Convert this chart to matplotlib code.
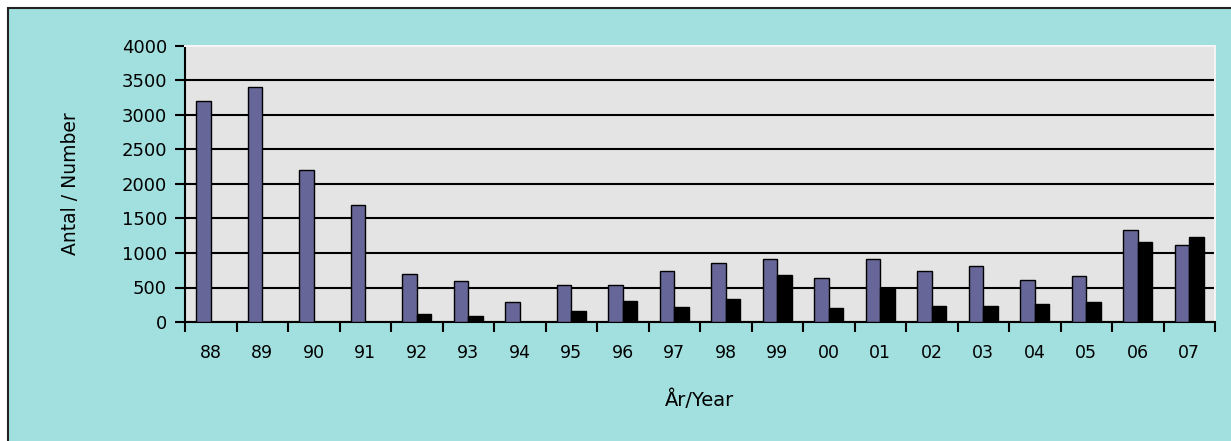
import matplotlib
matplotlib.use("Agg")
import matplotlib.pyplot as plt
import numpy as np
from matplotlib.patches import Rectangle

years = ["88", "89", "90", "91", "92", "93", "94", "95", "96", "97",
         "98", "99", "00", "01", "02", "03", "04", "05", "06", "07"]
series_a = [3200, 3400, 2200, 1700, 700, 600, 290, 530, 530, 740,
            850, 910, 640, 910, 740, 810, 610, 670, 1330, 1120]
series_b = [0, 0, 0, 0, 120, 80, 0, 160, 300, 220,
            330, 680, 200, 500, 230, 230, 260, 290, 1160, 1230]
yticks = [0, 500, 1000, 1500, 2000, 2500, 3000, 3500, 4000]

plt.rcParams['font.family'] = ['DejaVu Sans']

fig = plt.figure(figsize=(12.31, 4.41), dpi=100)
fig.patch.set_facecolor('white')
# background panel with frame (top and left visible)
fig.patches.append(Rectangle((8/1231, -0.05), 1.1, 1 - 8/441 + 0.05,
                             transform=fig.transFigure, facecolor='#a2e0e0',
                             edgecolor='#222222', linewidth=1.5, zorder=-10))

ax = fig.add_axes([185/1231, 1 - 322/441, (1215 - 185)/1231, (322 - 46)/441])
ax.set_facecolor('#e4e4e4')

x = np.arange(len(years))
w = 0.28
ax.bar(x - w/2, series_a, width=w, color='#666699', edgecolor='black', linewidth=1.0, zorder=3)
ax.bar(x + w/2, series_b, width=w, color='black', edgecolor='black', linewidth=1.0, zorder=3)

ax.set_xlim(-0.5, len(years) - 0.5)
ax.set_ylim(0, 4000)
ax.set_yticks(yticks)
ax.set_yticklabels([str(v) for v in yticks], fontsize=13)
ax.set_xticks(x)
ax.set_xticklabels(years, fontsize=12.5)
ax.set_xticks(np.arange(-0.5, len(years), 1.0), minor=True)
ax.tick_params(axis='x', which='major', length=0, pad=16)
ax.tick_params(axis='x', which='minor', length=7, width=1.5, direction='out', color='black')
ax.tick_params(axis='y', which='major', length=7, width=1.5, direction='out', pad=6)

ax.yaxis.grid(True, color='black', linewidth=1.5, zorder=1)
ax.set_axisbelow(True)
# no gridline at the very top edge
gl = ax.get_ygridlines()
gl[-1].set_visible(False)

for s in ['top', 'right']:
    ax.spines[s].set_color('#f4f4f4')
    ax.spines[s].set_linewidth(1.5)
for s in ['left', 'bottom']:
    ax.spines[s].set_color('black')
    ax.spines[s].set_linewidth(1.5)

ax.set_ylabel("Antal / Number", fontsize=13.5, labelpad=30)
ax.set_xlabel("År/Year", fontsize=14, labelpad=20)

fig.savefig("out.png", dpi=100, facecolor=fig.get_facecolor())
